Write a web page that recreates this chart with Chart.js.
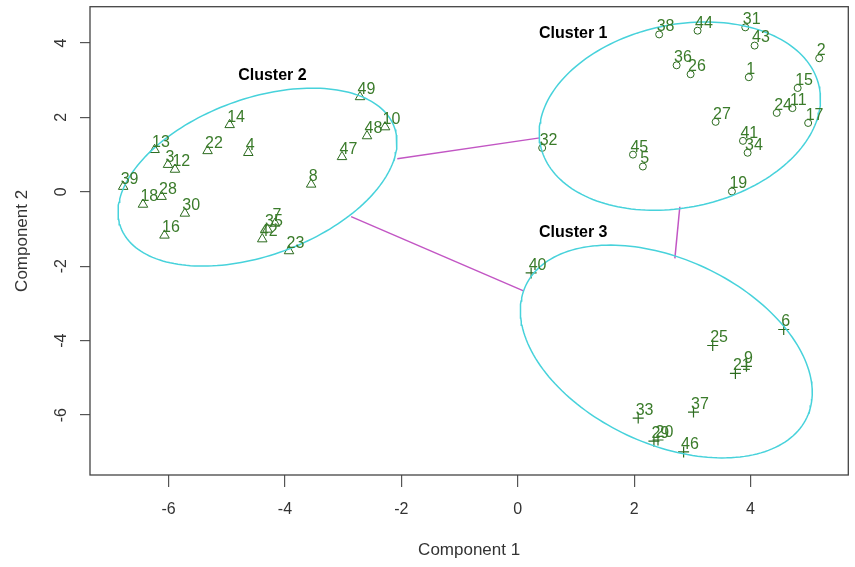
<!DOCTYPE html>
<html>
<head>
<meta charset="utf-8">
<script src="https://cdn.jsdelivr.net/npm/chart.js@4/dist/chart.umd.min.js"></script>
<style>
  html, body { margin: 0; padding: 0; background: #fff; }
  #wrap { width: 855px; height: 567px; }
</style>
</head>
<body>
<div id="wrap"><canvas id="c"></canvas></div>
<script>
// Observation numbers and their scores on the first two components, per cluster
const cluster1Ids = [1, 2, 5, 11, 15, 17, 19, 24, 26, 27, 31, 32, 34, 36, 38, 41, 43, 44, 45];
const cluster1X   = [3.97, 5.18, 2.15, 4.72, 4.81, 4.99, 3.68, 4.45, 2.97, 3.40, 3.91, 0.42, 3.95, 2.73, 2.43, 3.87, 4.07, 3.09, 1.98];
const cluster1Y   = [3.08, 3.59, 0.68, 2.25, 2.79, 1.85, 0.01, 2.12, 3.16, 1.88, 4.42, 1.18, 1.05, 3.40, 4.23, 1.37, 3.93, 4.33, 1.00];

const cluster2Ids = [3, 4, 7, 8, 10, 12, 13, 14, 16, 18, 22, 23, 28, 30, 35, 39, 42, 47, 48, 49];
const cluster2X   = [-6.01, -4.63, -4.17, -3.55, -2.28, -5.89, -6.24, -4.95, -6.07, -6.44, -5.33, -3.93, -6.12, -5.72, -4.30, -6.78, -4.39, -3.02, -2.59, -2.71];
const cluster2Y   = [0.73, 1.05, -0.85, 0.20, 1.74, 0.60, 1.13, 1.80, -1.17, -0.34, 1.10, -1.59, -0.13, -0.58, -1.01, 0.14, -1.27, 0.94, 1.50, 2.55];

const cluster3Ids = [6, 9, 20, 21, 25, 29, 33, 37, 40, 46];
const cluster3X   = [4.57, 3.93, 2.41, 3.74, 3.35, 2.34, 2.07, 3.02, 0.23, 2.85];
const cluster3Y   = [-3.70, -4.69, -6.67, -4.88, -4.13, -6.70, -6.08, -5.92, -2.18, -6.99];

// Axis ticks
const xTickValues = [-6, -4, -2, 0, 2, 4];
const yTickValues = [-6, -4, -2, 0, 2, 4];

// Spanning ellipses: centre and the two semi-axis vectors (component units)
const ellipseCentreX = [2.785, -4.472, 2.553];
const ellipseCentreY = [2.035, 0.395, -4.291];
const ellipseAxis1X  = [2.394, 2.350, 2.415];
const ellipseAxis1Y  = [0.793, 1.349, -1.773];
const ellipseAxis2X  = [0.327, 0.466, -0.676];
const ellipseAxis2Y  = [-2.403, -1.975, -2.243];

// Segments joining neighbouring ellipses
const linkFromX = [-2.07, -2.863, 2.785];
const linkFromY = [0.89, -0.665, -0.40];
const linkToX   = [0.379, 0.099, 2.70];
const linkToY   = [1.45, -2.663, -1.79];

// Cluster captions
const clusterNames  = ['Cluster 1', 'Cluster 2', 'Cluster 3'];
const clusterNameX  = [0.954, -4.216, 0.954];
const clusterNameY  = [4.253, 3.132, -1.087];

const markColour  = '#2c6b1f';
const labelColour = '#3a7b2a';
const ellipseColour = '#47d2db';
const linkColour  = '#c256c4';

function pointsOf(xs, ys) { return xs.map((x, i) => ({ x: x, y: ys[i] })); }

function ellipseOutline(k) {
  const pts = [];
  const n = 180;
  for (let i = 0; i <= n; i++) {
    const t = 2 * Math.PI * i / n;
    const c = Math.cos(t), s = Math.sin(t);
    pts.push({
      x: ellipseCentreX[k] + c * ellipseAxis1X[k] + s * ellipseAxis2X[k],
      y: ellipseCentreY[k] + c * ellipseAxis1Y[k] + s * ellipseAxis2Y[k]
    });
  }
  return pts;
}

const datasets = [];
[0, 1, 2].forEach(k => {
  datasets.push({
    data: ellipseOutline(k), showLine: true, pointRadius: 0, pointHoverRadius: 0,
    borderColor: ellipseColour, borderWidth: 1.5, fill: false, tension: 0
  });
});
[0, 1, 2].forEach(k => {
  datasets.push({
    data: [{ x: linkFromX[k], y: linkFromY[k] }, { x: linkToX[k], y: linkToY[k] }],
    showLine: true, pointRadius: 0, pointHoverRadius: 0,
    borderColor: linkColour, borderWidth: 1.5, fill: false
  });
});
datasets.push({
  ids: cluster1Ids, data: pointsOf(cluster1X, cluster1Y), pointStyle: 'circle',
  pointRadius: 3.5, borderColor: markColour, backgroundColor: 'rgba(0,0,0,0)', pointBorderWidth: 1
});
datasets.push({
  ids: cluster2Ids, data: pointsOf(cluster2X, cluster2Y), pointStyle: 'triangle',
  pointRadius: 5.5, borderColor: markColour, backgroundColor: 'rgba(0,0,0,0)', pointBorderWidth: 1
});
datasets.push({
  ids: cluster3Ids, data: pointsOf(cluster3X, cluster3Y), pointStyle: 'cross',
  pointRadius: 5.5, borderColor: markColour, backgroundColor: 'rgba(0,0,0,0)', pointBorderWidth: 1.2
});

// Observation numbers next to each mark, cluster captions and the plot box
const annotatePlugin = {
  id: 'annotate',
  afterDatasetsDraw(chart) {
    const ctx = chart.ctx;
    ctx.save();
    ctx.font = '16px "Liberation Sans", Arial, sans-serif';
    ctx.fillStyle = labelColour;
    ctx.textAlign = 'left';
    ctx.textBaseline = 'middle';
    chart.data.datasets.forEach((ds, i) => {
      if (!ds.ids) return;
      chart.getDatasetMeta(i).data.forEach((pt, j) => {
        ctx.fillText(String(ds.ids[j]), pt.x - 2.5, pt.y - 7.5);
      });
    });
    const xs = chart.scales.x, ys = chart.scales.y;
    ctx.font = 'bold 16px "Liberation Sans", Arial, sans-serif';
    ctx.fillStyle = '#000';
    ctx.textAlign = 'center';
    clusterNames.forEach((name, k) => {
      ctx.fillText(name, xs.getPixelForValue(clusterNameX[k]), ys.getPixelForValue(clusterNameY[k]));
    });
    const a = chart.chartArea;
    ctx.strokeStyle = '#444';
    ctx.lineWidth = 1.3;
    ctx.strokeRect(a.left, a.top, a.right - a.left, a.bottom - a.top);
    ctx.restore();
  }
};

const tickFont = { family: '"Liberation Sans", Arial, sans-serif', size: 16 };
const titleFont = { family: '"Liberation Sans", Arial, sans-serif', size: 17 };

function noEdgePadding(s) {
  s.paddingTop = 0; s.paddingBottom = 0; s.paddingLeft = 0; s.paddingRight = 0;
}

new Chart(document.getElementById('c'), {
  type: 'scatter',
  data: { datasets: datasets },
  options: {
    responsive: true,
    maintainAspectRatio: false,
    animation: false,
    devicePixelRatio: 1,
    layout: { padding: { top: 4, right: 1, left: 0, bottom: 0 } },
    plugins: { legend: { display: false }, tooltip: { enabled: false } },
    scales: {
      x: {
        type: 'linear', min: -7.35, max: 5.68,
        afterBuildTicks: s => { s.ticks = xTickValues.map(v => ({ value: v })); },
        afterFit: s => { s.height = 92; noEdgePadding(s); },
        grid: { drawOnChartArea: false, drawTicks: true, tickLength: 12, color: '#555', lineWidth: 1.2 },
        border: { display: false },
        ticks: { font: tickFont, color: '#333', padding: 13, maxRotation: 0, autoSkip: false },
        title: { display: true, text: 'Component 1', font: titleFont, color: '#333', padding: { top: 0, bottom: 6 } }
      },
      y: {
        type: 'linear', min: -7.61, max: 4.975,
        afterBuildTicks: s => { s.ticks = yTickValues.map(v => ({ value: v })); },
        afterFit: s => { s.width = 90; noEdgePadding(s); },
        grid: { drawOnChartArea: false, drawTicks: true, tickLength: 10, color: '#555', lineWidth: 1.2 },
        border: { display: false },
        ticks: { font: tickFont, color: '#333', padding: 11, minRotation: 90, maxRotation: 90, crossAlign: 'center', autoSkip: false },
        title: { display: true, text: 'Component 2', font: titleFont, color: '#333', padding: { top: 12, bottom: 0 } }
      }
    }
  },
  plugins: [annotatePlugin]
});
</script>
</body>
</html>
